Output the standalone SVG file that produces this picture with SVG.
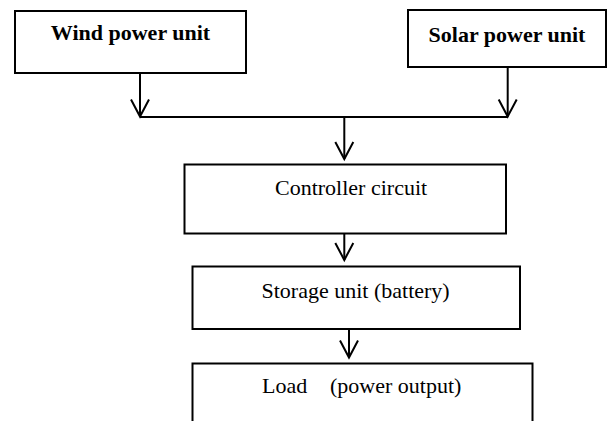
<svg xmlns="http://www.w3.org/2000/svg" width="608" height="421" viewBox="0 0 608 421">
<style>
.box{fill:#fff;stroke:#000;stroke-width:2}
.t{font-family:"Liberation Serif","Times New Roman",serif;font-size:22px;fill:#000}
.b{font-weight:bold}
.ln{fill:none;stroke:#000;stroke-width:2}
</style>
<defs>
<marker id="v" markerUnits="userSpaceOnUse" markerWidth="40" markerHeight="40" refX="0" refY="0" orient="auto" overflow="visible">
<path d="M-17,-9 L0,0 L-17,9" fill="none" stroke="#000" stroke-width="2"/>
</marker>
</defs>
<rect width="608" height="421" fill="#fff"/>
<g id="wind">
<rect class="box" x="15" y="11" width="231" height="62"/>
<text class="t b" x="130.5" y="40" text-anchor="middle">Wind power unit</text>
</g>
<g id="solar">
<rect class="box" x="408" y="10" width="198" height="57"/>
<text class="t b" x="507" y="42" text-anchor="middle">Solar power unit</text>
</g>
<g id="controller">
<rect class="box" x="184.5" y="164.5" width="321.5" height="69"/>
<text class="t" x="275" y="195">Controller circuit</text>
</g>
<g id="storage">
<rect class="box" x="192.5" y="266.5" width="327.5" height="62.5"/>
<text class="t" x="261.5" y="298">Storage unit (battery)</text>
</g>
<g id="load">
<rect class="box" x="192.5" y="363.5" width="340" height="70"/>
<text class="t" x="262" y="393">Load<tspan x="330">(power output)</tspan></text>
</g>
<g id="connectors">
<line class="ln" x1="140" y1="73" x2="140" y2="116.5" marker-end="url(#v)"/>
<line class="ln" x1="507.7" y1="67" x2="507.7" y2="116.5" marker-end="url(#v)"/>
<line class="ln" x1="140" y1="117" x2="508" y2="117"/>
<line class="ln" x1="344.3" y1="117" x2="344.3" y2="159" marker-end="url(#v)"/>
<line class="ln" x1="344.3" y1="233.5" x2="344.3" y2="260" marker-end="url(#v)"/>
<line class="ln" x1="349" y1="329" x2="349" y2="357.5" marker-end="url(#v)"/>
</g>
</svg>
